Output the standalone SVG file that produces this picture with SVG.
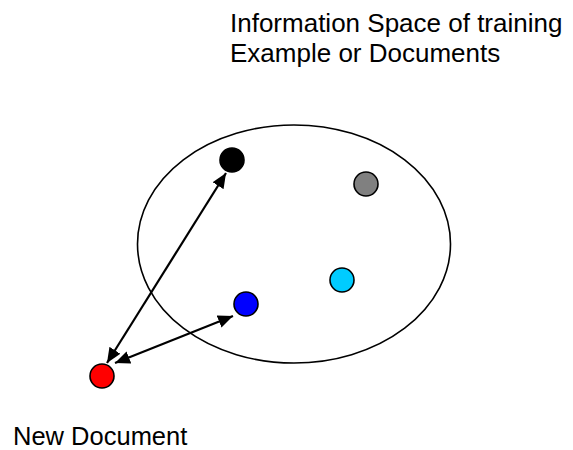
<svg xmlns="http://www.w3.org/2000/svg" width="573" height="450" viewBox="0 0 573 450">
  <defs>
    <marker id="head" viewBox="0 0 15 13" refX="15" refY="6.5" markerWidth="15" markerHeight="13" markerUnits="userSpaceOnUse" orient="auto-start-reverse">
      <path d="M0,0 L15,6.5 L0,13 Z" fill="#000"/>
    </marker>
    <style>
      .label { font-family: "Liberation Sans", Arial, sans-serif; font-size: 26px; fill: #000; }
      .dot { stroke: #000; stroke-width: 1.6; }
      .edge { stroke: #000; stroke-width: 2.2; fill: none; marker-start: url(#head); marker-end: url(#head); }
    </style>
  </defs>
  <rect width="573" height="450" fill="#fff"/>

  <!-- information space -->
  <g id="space">
    <ellipse cx="294" cy="244" rx="156.5" ry="119" fill="none" stroke="#000" stroke-width="1.6"/>
  </g>

  <g id="space-label">
    <text class="label" x="230" y="32">Information Space of training</text>
    <text class="label" x="230" y="62">Example or Documents</text>
  </g>

  <!-- distance connectors -->
  <g id="connectors">
    <line class="edge" x1="107" y1="363" x2="226" y2="173"/>
    <line class="edge" x1="115" y1="363" x2="233" y2="316"/>
  </g>

  <!-- documents -->
  <g id="doc-black"><circle class="dot" cx="232" cy="160" r="12" fill="#000"/></g>
  <g id="doc-gray"><circle class="dot" cx="366" cy="184" r="12" fill="#808080"/></g>
  <g id="doc-cyan"><circle class="dot" cx="342" cy="280" r="12" fill="#00CCFF"/></g>
  <g id="doc-blue"><circle class="dot" cx="246" cy="304" r="12" fill="#0000FF"/></g>
  <g id="doc-new"><circle class="dot" cx="102" cy="376" r="12" fill="#FF0000"/></g>

  <g id="new-label">
    <text class="label" x="13" y="444.5" style="font-size:25.5px">New Document</text>
  </g>
</svg>
